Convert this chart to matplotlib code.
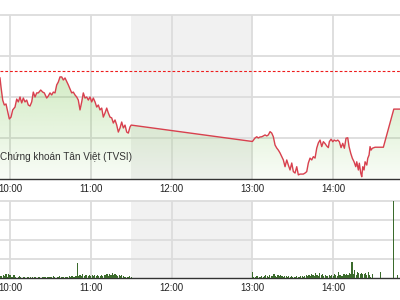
import numpy as np
import matplotlib
matplotlib.use('Agg')
import matplotlib.pyplot as plt
from matplotlib.patches import PathPatch

plt.rcParams['font.family'] = ['Liberation Sans', 'DejaVu Sans']

# intraday index (time, value)
price_times = [
    "09:52:34", "09:53:19", "09:54:35", "09:55:46", "09:57:02", "09:58:00", "09:59:29",
    "10:00:45", "10:02:00", "10:03:43", "10:04:59", "10:06:10", "10:07:26", "10:08:41",
    "10:09:53", "10:11:08", "10:12:24", "10:13:35", "10:14:51", "10:16:07", "10:17:18",
    "10:18:34", "10:19:50", "10:21:01", "10:22:48", "10:24:17", "10:25:28", "10:27:15",
    "10:28:27", "10:29:42", "10:30:58", "10:32:09", "10:33:25", "10:34:41", "10:35:52",
    "10:37:08", "10:38:24", "10:39:35", "10:40:51", "10:42:07", "10:43:18", "10:44:34",
    "10:45:49", "10:47:01", "10:48:16", "10:49:32", "10:50:43", "10:51:59", "10:53:15",
    "10:54:26", "10:55:42", "10:56:58", "10:58:09", "10:59:25", "11:00:40", "11:01:52",
    "11:03:08", "11:04:23", "11:05:35", "11:06:50", "11:08:06", "11:09:17", "11:10:33",
    "11:11:49", "11:13:00", "11:14:16", "11:15:32", "11:16:43", "11:17:59", "11:19:15",
    "11:20:26", "11:21:42", "11:22:57", "11:24:09", "11:25:24", "11:26:40", "11:27:51",
    "11:29:07", "11:30:00",
    "13:00:00", "13:01:57", "13:03:13", "13:04:24", "13:05:40", "13:06:56", "13:08:07",
    "13:09:23", "13:10:39", "13:11:50", "13:13:06", "13:14:21", "13:15:33", "13:16:48",
    "13:18:04", "13:19:15", "13:20:31", "13:21:47", "13:22:58", "13:24:14", "13:25:30",
    "13:26:41", "13:27:57", "13:29:13", "13:30:24", "13:31:40", "13:32:55", "13:34:07",
    "13:35:22", "13:36:38", "13:37:49", "13:39:05", "13:40:21", "13:41:32", "13:42:48",
    "13:44:04", "13:45:15", "13:46:31", "13:47:47", "13:48:58", "13:50:14", "13:51:29",
    "13:52:41", "13:53:56", "13:55:12", "13:56:23", "13:57:08", "13:58:24", "13:59:40",
    "14:00:51", "14:02:07", "14:03:23", "14:04:34", "14:05:50", "14:07:05", "14:08:17",
    "14:09:32", "14:10:48", "14:11:46", "14:13:02", "14:14:13", "14:15:29", "14:16:45",
    "14:17:29", "14:18:41", "14:19:25", "14:20:28", "14:21:12", "14:21:57", "14:22:55",
    "14:23:40", "14:24:56", "14:25:40", "14:26:38", "14:27:22", "14:28:07", "14:29:05",
    "14:31:06", "14:37:15", "14:45:00", "15:00:00",
]
price_values = [
    578.93, 578.49, 577.85, 577.61, 577.66, 577.37, 576.93,
    577.02, 577.37, 577.51, 577.90, 577.76, 578.00, 577.71,
    577.95, 577.76, 577.85, 577.61, 577.56, 577.76, 578.24,
    578.00, 578.20, 578.20, 578.34, 578.24, 578.20, 577.95,
    578.05, 578.20, 578.10, 578.24, 578.20, 578.59, 578.73,
    578.98, 578.98, 578.83, 578.93, 578.76, 578.59, 578.39,
    578.20, 578.24, 578.10, 578.00, 577.85, 577.37, 577.76,
    578.20, 577.95, 578.00, 577.85, 578.00, 577.76, 577.95,
    577.76, 577.51, 577.61, 577.37, 577.46, 577.02, 577.22,
    577.46, 577.22, 577.02, 576.98, 576.73, 576.88, 576.63,
    576.29, 576.49, 576.78, 576.49, 576.63, 576.29, 576.24,
    576.54, 576.63,
    575.83, 576.00, 576.06, 576.00, 576.05, 576.06, 576.10,
    576.15, 576.10, 576.15, 576.31, 576.24, 576.06, 575.66,
    575.51, 575.41, 575.27, 575.09, 574.93, 574.60, 574.93,
    574.68, 574.44, 574.78, 574.36, 574.29, 574.60, 574.20,
    574.24, 574.24, 574.24, 574.29, 574.36, 574.78, 575.02,
    574.93, 575.09, 575.02, 575.51, 575.76, 575.90, 575.58,
    575.82, 575.73, 575.61, 575.53, 575.82, 575.94, 575.82,
    575.90, 575.85, 575.90, 575.82, 575.53, 575.74, 575.50,
    575.99, 576.01, 575.58, 575.25, 575.01, 574.84, 574.60,
    574.84, 574.44, 574.77, 574.28, 574.11, 574.60, 574.44,
    574.84, 574.68, 575.01, 575.17, 575.58, 575.41, 575.50,
    575.55, 575.55, 577.41, 577.41,
]
ref_value = 579.27

# volume, one bar per minute
vol_am = [
    140, 120, 150, 130, 210, 90, 230, 180,
    60, 90, 150, 60, 40, 60, 120, 50, 40, 70,
    60, 40, 80, 50, 60, 40, 70, 50, 90, 40,
    60, 50, 40, 80, 60, 50, 40, 90, 60, 70,
    50, 110, 60, 40, 80, 60, 100, 50, 70, 60,
    90, 70, 60, 120, 80, 100, 70, 90, 110, 780,
    120, 160, 130, 200, 110, 180, 150, 130, 170, 140,
    190, 120, 150, 100, 170, 130, 110, 160, 140, 180,
    150, 200, 130, 230, 180, 290, 170, 240, 150, 130,
    180, 120, 160, 100, 90, 70, 80, 60, 110, 70,
]
vol_pm = [
    310, 80, 60, 120, 100, 70, 60, 140, 90, 110, 160,
    120, 80, 180, 100, 140, 200, 130, 90, 160, 110,
    170, 120, 90, 140, 100, 80, 110, 70, 130, 90,
    60, 80, 120, 90, 60, 100, 140, 80, 120, 170,
    130, 190, 110, 220, 160, 140, 250, 180, 120, 280,
    150, 210, 130, 170, 120, 100, 160, 140, 180, 130,
    200, 150, 120, 310, 170, 140, 130, 200, 160, 240,
    190, 280, 230, 830, 210, 420, 180, 310, 260, 220,
    280, 230, 200, 270, 190, 330, 150, 90, 210, 0,
]
vol_extra_times = ["14:35", "14:45", "14:48"]
vol_extra = [330, 5200, 150]

hour_ticks = [10, 11, 12, 13, 14]
hour_labels = ["10:00", "11:00", "12:00", "13:00", "14:00"]
source_text = "Chứng khoán Tân Việt (TVSI)"


def to_hours(s):
    parts = [int(p) for p in s.split(":")]
    while len(parts) < 3:
        parts.append(0)
    return parts[0] + parts[1] / 60 + parts[2] / 3600


t = np.array([to_hours(s) for s in price_times])
v = np.array(price_values)

vt = [9 + 53 / 60 + i / 60 for i in range(len(vol_am))]
vt += [13 + i / 60 for i in range(len(vol_pm))]
vt += [to_hours(s) for s in vol_extra_times]
vt = np.array(vt)
vv = np.array(vol_am + vol_pm + vol_extra)

xmin, xmax = 9.8762, 14.8267
grid_c = '#dcdcdc'
lunch_c = '#f1f1f1'

fig = plt.figure(figsize=(4, 3), dpi=100)
ax = fig.add_axes([0, (300 - 179) / 300, 1, 164 / 300])
ax2 = fig.add_axes([0, (300 - 278.3) / 300, 1, 77.3 / 300])

for a in (ax, ax2):
    a.set_xlim(xmin, xmax)
    a.axvspan(11.5, 13, color=lunch_c, zorder=0, lw=0)
    a.set_xticks(hour_ticks)
    a.set_xticklabels(hour_labels)
    a.tick_params(axis='x', length=0, labelsize=7, pad=3.5, colors='#222222')
    a.tick_params(axis='y', length=0, labelleft=False)
    a.grid(True, color=grid_c, lw=1.3, zorder=1)
    a.set_axisbelow(True)
    a.spines['left'].set_visible(False)
    a.spines['right'].set_visible(False)
    a.spines['top'].set_color(grid_c)
    a.spines['top'].set_linewidth(1.3)
    a.spines['bottom'].set_color('#333333')
    a.spines['bottom'].set_linewidth(1.0)

# price panel
ylo, yhi = 574, 582
ax.set_ylim(ylo, yhi)
ax.set_yticks([576, 578, 580])

poly = ax.fill_between(t, v, ylo, color='none', lw=0)
rows = 200
alpha = np.linspace(0.53, 0.05, rows)
grad = np.zeros((rows, 2, 4))
grad[:, :, 0] = 130 / 255
grad[:, :, 1] = 200 / 255
grad[:, :, 2] = 90 / 255
grad[:, :, 3] = alpha[:, None]
im = ax.imshow(grad, extent=[xmin, xmax, ylo, yhi], aspect='auto',
               origin='upper', zorder=2, interpolation='bilinear')
clip = PathPatch(poly.get_paths()[0], transform=ax.transData,
                 facecolor='none', edgecolor='none')
ax.add_patch(clip)
im.set_clip_path(clip)

ax.plot(t, v, color='#d8404e', lw=1.0, zorder=4)
ax.axhline(ref_value, color='#ee1c1c', lw=0.8, ls=(0, (2.5, 1.8)), zorder=3)
ax.text(xmin, 575.05, source_text, fontsize=7.2, color='#333333',
        ha='left', va='center', zorder=5)

# volume panel
ax2.set_ylim(0, 4000)
ax2.set_yticks([1000, 2000, 3000])
ax2.bar(vt, vv, width=0.014, color='#3b6b2c', lw=0, zorder=3)

fig.savefig('out.png', dpi=100)
